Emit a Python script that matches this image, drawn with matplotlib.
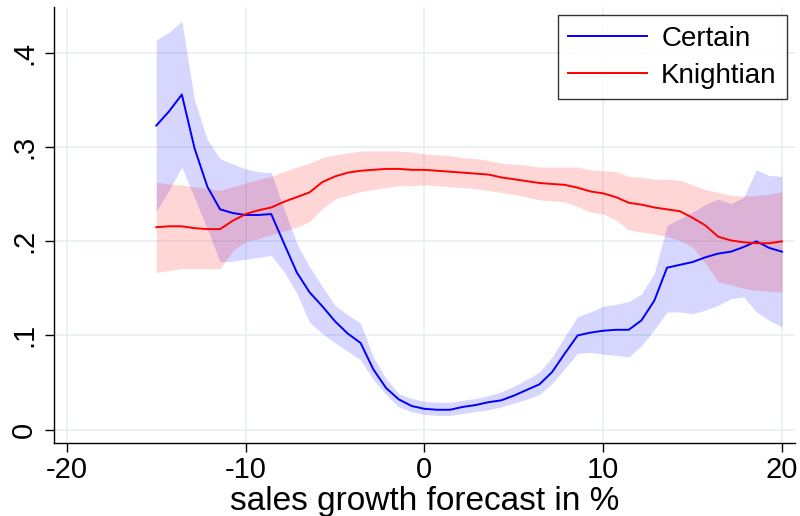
import matplotlib
matplotlib.use("Agg")
import matplotlib.pyplot as plt

plt.rcParams['font.family'] = ['Liberation Sans', 'DejaVu Sans']
plt.rcParams['axes.unicode_minus'] = False

# forecast grid (sales growth in %)
x = [-15.0, -14.29, -13.57, -12.86, -12.14, -11.43, -10.71, -10.0, -9.29, -8.57,
     -7.86, -7.14, -6.43, -5.71, -5.0, -4.29, -3.57, -2.86, -2.14, -1.43,
     -0.71, 0.0, 0.71, 1.43, 2.14, 2.86, 3.57, 4.29, 5.0, 5.71,
     6.43, 7.14, 7.86, 8.57, 9.29, 10.0, 10.71, 11.43, 12.14, 12.86,
     13.57, 14.29, 15.0, 15.71, 16.43, 17.14, 17.86, 18.57, 19.29, 20.0]

# Certain
certain = [0.323, 0.338, 0.356, 0.299, 0.258, 0.234, 0.230, 0.228, 0.228, 0.229,
           0.198, 0.167, 0.146, 0.131, 0.115, 0.102, 0.092, 0.064, 0.044, 0.032,
           0.025, 0.022, 0.021, 0.021, 0.024, 0.026, 0.029, 0.031, 0.036, 0.042,
           0.048, 0.061, 0.081, 0.100, 0.103, 0.105, 0.106, 0.106, 0.116, 0.137,
           0.172, 0.175, 0.178, 0.183, 0.187, 0.189, 0.194, 0.200, 0.193, 0.189]
certain_hi = [0.414, 0.422, 0.434, 0.350, 0.308, 0.288, 0.282, 0.277, 0.274, 0.273,
              0.235, 0.198, 0.173, 0.152, 0.132, 0.122, 0.113, 0.077, 0.054, 0.038,
              0.033, 0.030, 0.029, 0.029, 0.031, 0.033, 0.036, 0.040, 0.046, 0.053,
              0.061, 0.077, 0.099, 0.120, 0.125, 0.131, 0.133, 0.136, 0.144, 0.166,
              0.217, 0.224, 0.231, 0.239, 0.245, 0.240, 0.247, 0.276, 0.270, 0.269]
certain_lo = [0.232, 0.254, 0.279, 0.246, 0.213, 0.178, 0.179, 0.181, 0.183, 0.185,
              0.168, 0.145, 0.114, 0.102, 0.092, 0.083, 0.074, 0.053, 0.037, 0.024,
              0.019, 0.016, 0.015, 0.015, 0.017, 0.019, 0.021, 0.024, 0.028, 0.032,
              0.037, 0.049, 0.065, 0.081, 0.082, 0.080, 0.079, 0.077, 0.089, 0.106,
              0.125, 0.125, 0.123, 0.127, 0.132, 0.139, 0.141, 0.125, 0.116, 0.109]

# Knightian
knight = [0.215, 0.216, 0.216, 0.214, 0.213, 0.213, 0.222, 0.229, 0.233, 0.236,
          0.242, 0.247, 0.252, 0.263, 0.269, 0.273, 0.275, 0.276, 0.277, 0.277,
          0.276, 0.276, 0.275, 0.274, 0.273, 0.272, 0.271, 0.268, 0.266, 0.264,
          0.262, 0.261, 0.260, 0.257, 0.253, 0.251, 0.247, 0.241, 0.239, 0.236,
          0.234, 0.232, 0.225, 0.217, 0.205, 0.201, 0.199, 0.198, 0.198, 0.200]
knight_hi = [0.263, 0.261, 0.260, 0.258, 0.256, 0.254, 0.258, 0.262, 0.266, 0.269,
             0.274, 0.279, 0.283, 0.289, 0.292, 0.294, 0.296, 0.296, 0.296, 0.296,
             0.295, 0.293, 0.292, 0.291, 0.289, 0.288, 0.286, 0.283, 0.282, 0.281,
             0.279, 0.279, 0.279, 0.279, 0.276, 0.275, 0.274, 0.269, 0.268, 0.266,
             0.266, 0.265, 0.260, 0.255, 0.252, 0.249, 0.248, 0.249, 0.250, 0.253]
knight_lo = [0.167, 0.169, 0.171, 0.171, 0.171, 0.171, 0.190, 0.200, 0.203, 0.207,
             0.211, 0.215, 0.221, 0.235, 0.245, 0.249, 0.253, 0.255, 0.257, 0.259,
             0.259, 0.260, 0.259, 0.258, 0.257, 0.256, 0.254, 0.252, 0.250, 0.247,
             0.244, 0.243, 0.242, 0.237, 0.231, 0.229, 0.223, 0.212, 0.210, 0.208,
             0.205, 0.201, 0.194, 0.177, 0.157, 0.154, 0.150, 0.148, 0.147, 0.146]

xticks = [-20, -10, 0, 10, 20]
yticks = [0, 0.1, 0.2, 0.3, 0.4]
ylabels = ['0', '.1', '.2', '.3', '.4']

fig = plt.figure(figsize=(8, 5.16), dpi=100)
ax = fig.add_axes([0.0675, 0.1415, 0.9265, 0.8445])

# confidence bands
ax.fill_between(x, certain_lo, certain_hi, color=(0, 0, 1, 0.16), lw=0)
ax.fill_between(x, knight_lo, knight_hi, color=(1, 0, 0, 0.16), lw=0)

ax.plot(x, certain, color='#0000ff', lw=1.4, label='Certain')
ax.plot(x, knight, color='#ff0000', lw=1.4, label='Knightian')

ax.set_xlim(-20.72, 20.74)
ax.set_ylim(-0.0143, 0.4488)
ax.set_xticks(xticks)
ax.set_yticks(yticks)
ax.set_yticklabels(ylabels, rotation=90, va='center')
ax.grid(True, color='#eaf1f3', lw=1.3)
ax.set_axisbelow(True)
for s in ['top', 'right']:
    ax.spines[s].set_visible(False)
ax.spines['left'].set_linewidth(1.0)
ax.spines['bottom'].set_linewidth(1.0)
ax.tick_params(direction='out', length=6.5, width=1, labelsize=21)
ax.tick_params(axis='x', pad=3)
ax.tick_params(axis='y', pad=5)
ax.set_xlabel('sales growth forecast in %', fontsize=24, va='baseline')
ax.xaxis.set_label_coords(0.5, -0.1537)

leg = ax.legend(loc='upper right', bbox_to_anchor=(0.984, 0.971),
                bbox_transform=fig.transFigure, fontsize=20, frameon=True,
                fancybox=False, handlelength=2.85, handletextpad=0.5,
                borderpad=0.38, labelspacing=0.4, borderaxespad=0)
leg.get_frame().set_edgecolor('black')
leg.get_frame().set_linewidth(1.0)

fig.savefig('out.png', dpi=100)
